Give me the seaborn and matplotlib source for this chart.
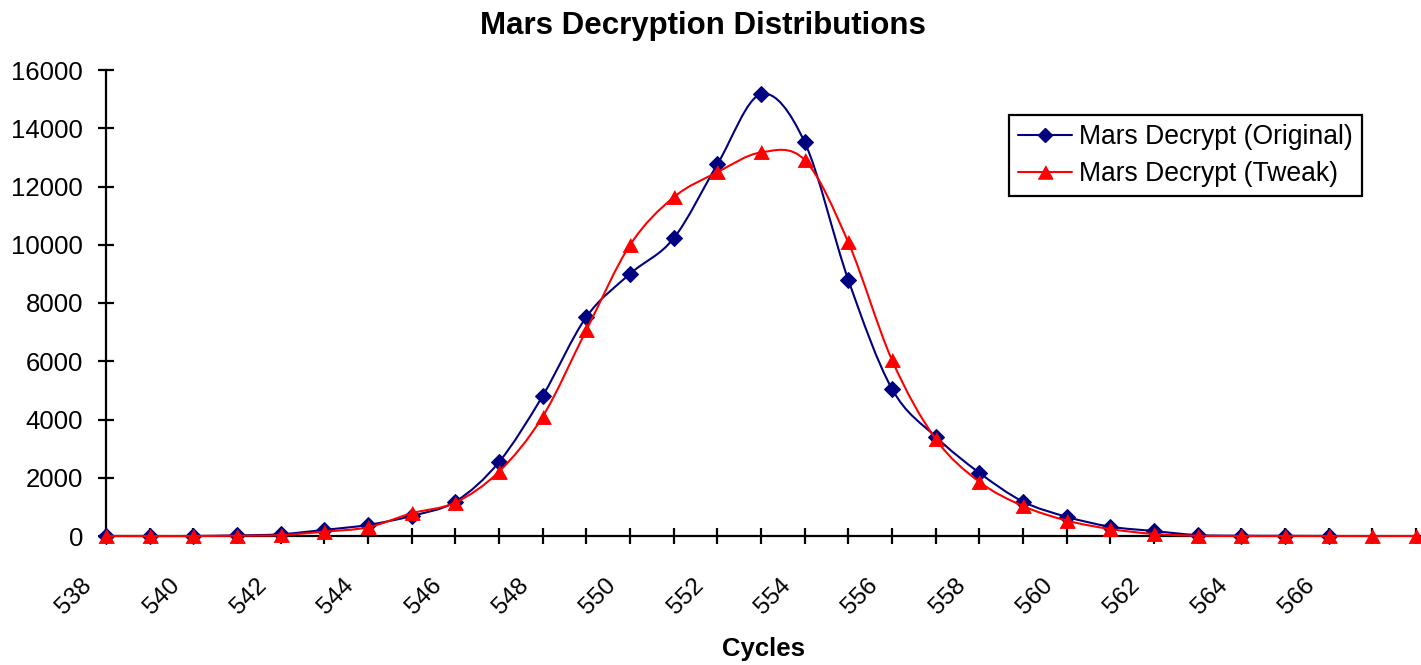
import numpy as np
import matplotlib
matplotlib.use("Agg")
import matplotlib.pyplot as plt
import seaborn as sns
from matplotlib.path import Path
from matplotlib.patches import PathPatch
from matplotlib.lines import Line2D
import matplotlib.transforms as mtransforms

# ---------------- data ----------------
cycles_original = list(range(538, 567))
original = [0, 0, 0, 20, 60, 210, 380, 690, 1180, 2540, 4810, 7520, 9000, 10220,
            12760, 15170, 13520, 8790, 5050, 3410, 2170, 1180, 660, 320, 170, 30,
            10, 5, 2]
cycles_tweak = list(range(538, 569))
tweak = [0, 0, 0, 10, 30, 150, 300, 780, 1150, 2210, 4100, 7070, 9990, 11630,
         12490, 13170, 12910, 10080, 6040, 3330, 1860, 1030, 530, 240, 70, 10,
         0, 0, 0, 0, 0]
x_tick_values = list(range(538, 567, 2))
y_tick_values = list(range(0, 16001, 2000))
series_names = ["Mars Decrypt (Original)", "Mars Decrypt (Tweak)"]
title_text = "Mars Decryption Distributions"
x_label = "Cycles"

# ---------------- style ----------------
sns.set_style("ticks")
plt.rcParams["font.family"] = ["Liberation Sans", "DejaVu Sans"]
plt.rcParams["text.color"] = "black"

W, H = 1421, 665
fig = plt.figure(figsize=(W / 100, H / 100), dpi=100)
ax_left, ax_right, ax_top, ax_bottom = 106, 1421, 70, 536
ax = fig.add_axes([ax_left / W, (H - ax_bottom) / H,
                   (ax_right - ax_left) / W, (ax_bottom - ax_top) / H])

NAVY = "#000080"
RED = "#FF0000"
LW = 1.5
tri = [(-1.0, -0.9), (1.0, -0.9), (0.0, 0.9)]


def smooth_path(xs, ys):
    pts = np.column_stack([xs, ys]).astype(float)
    n = len(pts)
    verts = [pts[0]]
    codes = [Path.MOVETO]
    for i in range(n - 1):
        p0 = pts[max(i - 1, 0)]
        p1 = pts[i]
        p2 = pts[i + 1]
        p3 = pts[min(i + 2, n - 1)]
        c1 = p1 + (p2 - p0) / 6.0
        c2 = p2 - (p3 - p1) / 6.0
        verts += [c1, c2, p2]
        codes += [Path.CURVE4] * 3
    return Path(verts, codes)


series = [
    (cycles_original, original, NAVY, "D", 8.1, 3),
    (cycles_tweak, tweak, RED, tri, 11.0, 5),
]
for xs, ys, col, mk, ms, z in series:
    ax.add_patch(PathPatch(smooth_path(xs, ys), facecolor="none",
                           edgecolor=col, lw=LW, zorder=z, clip_on=False,
                           transform=ax.transData))
    sns.lineplot(x=xs, y=ys, ax=ax, color=col, marker=mk, markersize=ms,
                 markeredgecolor=col, markerfacecolor=col, linestyle="none",
                 legend=False, zorder=z + 1, clip_on=False)

ax.set_xlim(538, 568 + 5 / 43.67)
ax.set_ylim(0, 16000)
ax.set_xticks(list(range(538, 569)))
ax.set_xticklabels([str(v) if v in x_tick_values else "" for v in range(538, 569)])
ax.set_yticks(y_tick_values)
ax.set_yticklabels([str(v) for v in y_tick_values])

for s in ["top", "right"]:
    ax.spines[s].set_visible(False)
for s in ["left", "bottom"]:
    ax.spines[s].set_color("black")
    ax.spines[s].set_linewidth(1.6)

ax.tick_params(axis="both", direction="inout", length=12, width=1.6,
               color="black", labelcolor="black")
ax.tick_params(axis="y", pad=10.6, labelsize=18.5)
ax.tick_params(axis="x", pad=24, labelsize=17.5)

offset = mtransforms.ScaledTranslation(-25 / 100, 3 / 100, fig.dpi_scale_trans)
for lab in ax.get_xticklabels():
    lab.set_rotation(45)
    lab.set_ha("right")
    lab.set_va("top")
    lab.set_rotation_mode("anchor")
    lab.set_transform(lab.get_transform() + offset)

ax.set_xlabel(x_label, fontsize=18.5, fontweight="bold", color="black")
ax.xaxis.set_label_coords(0.5, (ax_bottom - 637) / (ax_bottom - ax_top))
ax.set_ylabel("")

fig.text(703 / W, 1 - 34 / H, title_text, ha="center", va="baseline",
         fontsize=22.5, fontweight="bold", color="black")

handles = [
    Line2D([], [], color=NAVY, lw=LW, marker="D", markersize=6.8,
           markerfacecolor=NAVY, markeredgecolor=NAVY),
    Line2D([], [], color=RED, lw=LW, marker=tri, markersize=10.5,
           markerfacecolor=RED, markeredgecolor=RED),
]
leg = fig.legend(handles, series_names, loc="upper left",
                 bbox_to_anchor=(1009 / W, 1 - 115 / H),
                 bbox_transform=fig.transFigure, borderaxespad=0,
                 fontsize=19.1, frameon=True, fancybox=False, framealpha=1,
                 edgecolor="black", numpoints=1, handlelength=2.05,
                 handletextpad=0.25, borderpad=0.34, labelspacing=0.42,
                 labelcolor="black")
leg.get_frame().set_linewidth(1.6)

fig.savefig("out.png", dpi=100, facecolor="white")
